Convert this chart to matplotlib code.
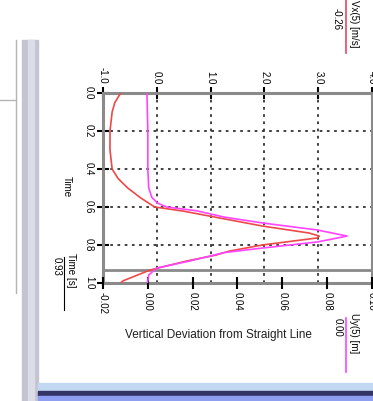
import matplotlib
matplotlib.use("Agg")
import matplotlib.pyplot as plt
from matplotlib.patches import Rectangle
from matplotlib.lines import Line2D

plt.rcParams['font.family'] = ['Liberation Sans', 'DejaVu Sans']
plt.rcParams['axes.unicode_minus'] = False

# time [s] and Vx(5) [m/s] (red, top axis)
t_vx = [0.0, 0.05, 0.1, 0.2, 0.3, 0.4, 0.45, 0.5, 0.55, 0.6, 0.621, 0.658, 0.7,
        0.737, 0.753, 0.763, 0.8, 0.832, 0.853, 0.884, 0.932, 0.989, 1.0]
vx = [-0.67, -0.78, -0.83, -0.87, -0.87, -0.83, -0.72, -0.54, -0.31, -0.04, 0.48, 1.17, 1.96,
      2.83, 3.02, 2.98, 1.96, 1.35, 1.10, 0.56, -0.13, -0.63, -0.67]

# time [s] and Uy(5) [m] (magenta, bottom axis)
t_uy = [0.0, 0.2, 0.4, 0.5, 0.55, 0.58, 0.6, 0.62, 0.653, 0.684, 0.721, 0.753,
        0.784, 0.816, 0.84, 0.884, 0.921, 0.958, 1.0]
uy = [-0.0004, 0.0, 0.0, 0.0004, 0.0018, 0.0044, 0.0084, 0.0218, 0.034, 0.0511, 0.0756, 0.0889,
      0.0756, 0.0511, 0.034, 0.0187, 0.004, 0.0004, -0.0002]

vx_ticks = [-1.0, 0.0, 1.0, 2.0, 3.0, 4.0]
uy_ticks = [-0.02, 0.0, 0.02, 0.04, 0.06, 0.08, 0.10]
t_ticks = [0.0, 0.2, 0.4, 0.6, 0.8, 1.0]
cursor_t = 0.93

W, H = 373, 401
fig = plt.figure(figsize=(W / 100, H / 100), dpi=100)
fig.patch.set_facecolor('white')

def fx(x):
    return x / W

def fy(y):
    return 1 - y / H

ax = fig.add_axes([fx(103), fy(283), (372 - 103) / W, (283 - 93) / H])
ax2 = ax.twiny()

ax.set_xlim(-1.0, 4.0)
ax.set_ylim(1.0, 0.0)
ax.xaxis.tick_top()
ax.set_xticks(vx_ticks)
ax.set_xticklabels(['%.1f' % v for v in vx_ticks], rotation=-90)
ax.set_yticks(t_ticks)
ax.set_yticklabels(['%.1f' % v for v in t_ticks], rotation=-90, va='center')
ax.tick_params(axis='both', direction='inout', length=9, width=1.5, color='black',
               labelsize=7, pad=2)
ax.grid(True, color='#333333', linestyle=(0, (1.5, 2.5)), linewidth=1.3)
for s in ax.spines.values():
    s.set_color('#8a8a8a')
    s.set_linewidth(2.2)
ax.axhline(cursor_t, color='#8a8a8a', linewidth=2)
ax.plot(vx, t_vx, color='#ee4848', linewidth=1.2, zorder=3)

ax2.set_xlim(-0.02, 0.10)
ax2.xaxis.tick_bottom()
ax2.set_xticks(uy_ticks)
ax2.set_xticklabels(['%.2f' % v for v in uy_ticks], rotation=-90)
ax2.tick_params(axis='x', direction='inout', length=9, width=1.5, color='black',
                labelsize=7, pad=2)
for s in ax2.spines.values():
    s.set_visible(False)
ax2.plot(uy, t_uy, color='#ff44ff', linewidth=1.2, zorder=3)

fig.text(fx(67), fy(187), 'Time', rotation=-90, fontsize=7, ha='center', va='center')
fig.text(fx(71), fy(270), 'Time [s]', rotation=-90, fontsize=7, ha='center', va='center')
fig.text(fx(57), fy(266), '0.93', rotation=-90, fontsize=7, ha='center', va='center')
fig.text(fx(218), fy(335), 'Vertical Deviation from Straight Line', fontsize=8.5,
         ha='center', va='center', color='#202020')
fig.text(fx(354), fy(24), 'Vx(5) [m/s]', rotation=-90, fontsize=7, ha='center', va='center')
fig.text(fx(337), fy(19), '-0.26', rotation=-90, fontsize=7, ha='center', va='center')
fig.text(fx(354), fy(333), 'Uy(5) [m]', rotation=-90, fontsize=7, ha='center', va='center')
fig.text(fx(338), fy(327), '0.00', rotation=-90, fontsize=7, ha='center', va='center')

# window chrome around the chart
deco = [
    Rectangle((fx(22), 0), 16 / W, fy(40), color='#c4c4d0'),
    Rectangle((fx(28), 0), 6 / W, fy(40), color='#dcdce8'),
    Rectangle((fx(38), 0), 335 / W, 18 / H, color='#c2d8f2'),
    Rectangle((fx(38), fy(396)), 335 / W, 5 / H, color='#343466'),
    Rectangle((fx(38), 0), 335 / W, 5 / H, color='#8e9ef0'),
]
for r in deco:
    r.set_transform(fig.transFigure)
    fig.add_artist(r)
fig.add_artist(Line2D([fx(16), fx(16)], [fy(40), fy(293)], color='#b4b4b4', lw=1,
                      transform=fig.transFigure))
fig.add_artist(Line2D([0, fx(16)], [fy(100), fy(100)], color='#b4b4b4', lw=1,
                      transform=fig.transFigure))
fig.add_artist(Line2D([fx(64), fx(64)], [fy(257), fy(310)], color='black', lw=0.8,
                      transform=fig.transFigure))
fig.add_artist(Line2D([fx(346), fx(346)], [fy(0), fy(53)], color='#ee4466', lw=1.2,
                      transform=fig.transFigure))
fig.add_artist(Line2D([fx(346), fx(346)], [fy(318), fy(372)], color='#ff44ff', lw=1.2,
                      transform=fig.transFigure))

fig.savefig('out.png', dpi=100)
